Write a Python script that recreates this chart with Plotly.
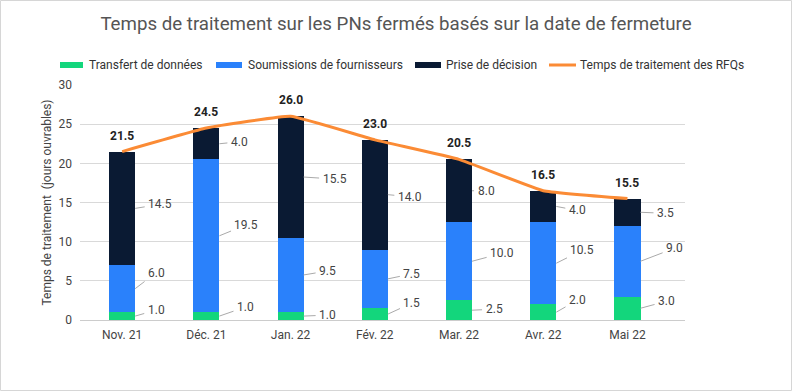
import plotly.graph_objects as go

months = ["Nov. 21", "Déc. 21", "Jan. 22", "Fév. 22", "Mar. 22", "Avr. 22", "Mai 22"]
transfert = [1.0, 1.0, 1.0, 1.5, 2.5, 2.0, 3.0]
soumissions = [6.0, 19.5, 9.5, 7.5, 10.0, 10.5, 9.0]
decision = [14.5, 4.0, 15.5, 14.0, 8.0, 4.0, 3.5]
totals = [21.5, 24.5, 26.0, 23.0, 20.5, 16.5, 15.5]

series_names = ["Transfert de données", "Soumissions de fournisseurs", "Prise de décision"]
line_name = "Temps de traitement des RFQs"
title_text = "Temps de traitement sur les PNs fermés basés sur la date de fermeture"
y_title = "Temps de traitement  (jours ouvrables)"

# label offsets in pixels (text centre relative to bar edge), per month
off_t = [(21, -6), (26, -9), (24, -1), (24, -11), (22, -1), (21, -12), (26, -7)]
off_s = [(21, -16), (27, -11), (24, -4), (24, -5), (30, -8), (26, -13), (34, -13)]
off_p = [(25, -4), (20, -2), (31, 2), (22, 2), (14, 0), (21, 4), (25, 1)]

colors = ["#13D67C", "#2A81FB", "#0A1A33"]
orange = "#FB8B35"
FONT = "Roboto"

W, H = 792, 391
ML, MR, MT, MB = 80, 107, 85, 71
BW = 0.31

fig = go.Figure()
for name, vals, c in zip(series_names, [transfert, soumissions, decision], colors):
    fig.add_trace(go.Bar(x=months, y=vals, name=name, marker=dict(color=c, line=dict(width=0)),
                         width=BW, showlegend=False))
fig.add_trace(go.Scatter(x=months, y=totals, name=line_name, mode="lines", showlegend=False,
                         line=dict(color=orange, width=3, shape="spline", smoothing=0.3)))

ann = []
for i in range(len(months)):
    base = 0.0
    for vals, offs in [(transfert, off_t), (soumissions, off_s), (decision, off_p)]:
        v = vals[i]
        mid = base + v / 2
        dx, dy = offs[i]
        ann.append(dict(x=i + BW / 2, y=mid, xref="x", yref="y", text=f"{v:.1f}",
                        showarrow=True, arrowhead=0, arrowwidth=1, arrowcolor="#aaaaaa",
                        ax=dx, ay=dy, standoff=0, startstandoff=2,
                        font=dict(family=FONT, size=12, color="#444444")))
        base += v
    ann.append(dict(x=i, y=totals[i], xref="x", yref="y", text=f"<b>{totals[i]:.1f}</b>",
                    showarrow=False, yshift=16,
                    font=dict(family=FONT, size=12, color="#222222")))

pw = W - ML - MR
ph = H - MT - MB
def px2x(p):
    return (p - ML) / pw
def py2y(p):
    return (H - MB - p) / ph

shapes = [dict(type="rect", xref="paper", yref="paper",
               x0=px2x(0.5), x1=px2x(W - 0.5), y0=py2y(H - 0.5), y1=py2y(0.5),
               line=dict(color="#d6d6d6", width=1), fillcolor="rgba(0,0,0,0)", layer="below")]

# manual legend (pixel positions of swatch start / text start)
leg_y = 65
leg_items = [(60, 83, 87, colors[0], "bar"), (216, 242, 246, colors[1], "bar"),
             (415, 441, 444, colors[2], "bar"), (549, 576, 578, orange, "line")]
leg_names = series_names + [line_name]
for (s0, s1, tx, c, kind), nm in zip(leg_items, leg_names):
    if kind == "bar":
        shapes.append(dict(type="rect", xref="paper", yref="paper",
                           x0=px2x(s0), x1=px2x(s1), y0=py2y(leg_y + 3), y1=py2y(leg_y - 3),
                           line=dict(width=0), fillcolor=c))
    else:
        shapes.append(dict(type="line", xref="paper", yref="paper",
                           x0=px2x(s0), x1=px2x(s1), y0=py2y(leg_y), y1=py2y(leg_y),
                           line=dict(color=c, width=3)))
    ann.append(dict(x=px2x(tx), y=py2y(leg_y - 0.5), xref="paper", yref="paper", text=nm,
                    showarrow=False, xanchor="left", yanchor="middle",
                    font=dict(family=FONT, size=12, color="#333333")))

fig.update_layout(
    width=W, height=H,
    margin=dict(l=ML, r=MR, t=MT, b=MB, autoexpand=False),
    paper_bgcolor="white", plot_bgcolor="white",
    barmode="stack",
    showlegend=False,
    font=dict(family=FONT, size=12, color="#444444"),
    title=dict(text=title_text, x=0.5, xref="container", xanchor="center",
               y=1 - 23 / H, yref="container", yanchor="middle",
               font=dict(family=FONT, size=18.7, color="#555555")),
    xaxis=dict(type="category", showgrid=False, showline=False, ticks="",
               ticklabelstandoff=6,
               tickfont=dict(family=FONT, size=12, color="#444444")),
    yaxis=dict(range=[0, 30], dtick=5, showgrid=True, gridcolor="#d9d9d9", gridwidth=1,
               zeroline=True, zerolinecolor="#cccccc", zerolinewidth=1, showline=False,
               ticklabelstandoff=7,
               tickfont=dict(family=FONT, size=12, color="#444444"),
               title=dict(text=y_title, font=dict(family=FONT, size=12, color="#444444"),
                          standoff=4)),
    annotations=ann,
    shapes=shapes,
)

fig.write_html("out.html", config={"displayModeBar": False},
               post_script="document.body.style.margin='0';document.body.style.overflow='hidden';")
